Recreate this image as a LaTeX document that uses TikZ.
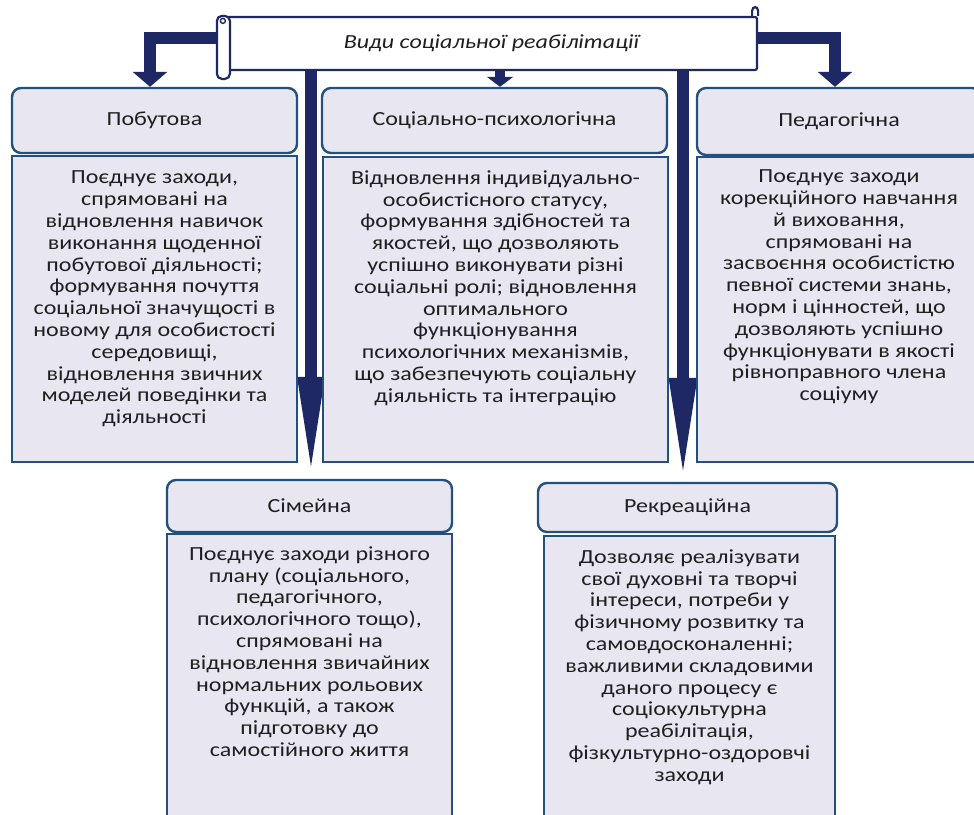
\documentclass[tikz,border=0pt]{standalone}
\usepackage{fontspec}
\setmainfont{Carlito}[FakeStretch=1.2]
\usetikzlibrary{arrows.meta}
\definecolor{navy}{RGB}{30,40,100}
\definecolor{bordc}{RGB}{35,80,125}
\definecolor{boxfill}{RGB}{232,230,241}
\pgfdeclarelayer{bg}
\pgfsetlayers{bg,main}
\begin{document}
\begin{tikzpicture}[x=1pt,y=-1pt,
 every node/.style={font=\fontsize{20}{21.8}\selectfont, text=black!88},
 hdr/.style={draw=bordc, fill=boxfill, line width=2.4pt, rounded corners=9pt, inner sep=0pt},
 bodybox/.style={draw=bordc, fill=boxfill, line width=2.4pt, inner sep=0pt},
 btext/.style={align=center, inner sep=0pt},
 scrollbox/.style={draw=navy, fill=white, line width=2.2pt, rounded corners=2pt, inner sep=0pt, font=\fontsize{20}{22}\selectfont\itshape},
 scrollpart/.style={draw=navy, fill=white, line width=2.2pt},
 blockarr/.style={draw=navy, line width=12pt, line join=miter},
]
\clip (0,0) rectangle (974,814);

% header and body boxes
\node[hdr, minimum width=285pt, minimum height=65pt] (pobh) at (154.5,120.5) {Побутова};
\node[bodybox, minimum width=285pt, minimum height=306pt] (pobb) at (154.5,309) {};
\node[hdr, minimum width=345pt, minimum height=65pt] (soch) at (494.5,120.5) {Соціально-психологічна};
\node[bodybox, minimum width=345pt, minimum height=305pt] (socb) at (495.5,309.5) {};
\node[hdr, minimum width=284pt, minimum height=67pt] (pedh) at (839,121.5) {Педагогічна};
\node[bodybox, minimum width=284pt, minimum height=305pt] (pedb) at (839,309.5) {};
\node[hdr, minimum width=285pt, minimum height=52pt] (simh) at (309.5,506) {Сімейна};
\node[bodybox, minimum width=285pt, minimum height=296pt] (simb) at (309.5,682) {};
\node[hdr, minimum width=299pt, minimum height=49pt] (rekh) at (687.5,507.5) {Рекреаційна};
\node[bodybox, minimum width=291pt, minimum height=294pt] (rekb) at (689.5,683) {};

% body texts
\node[btext] (pobt) at (154.5,299) {Поєднує заходи,\\спрямовані на\\відновлення навичок\\виконання щоденної\\побутової діяльності;\\формування почуття\\соціальної значущості в\\новому для особистості\\середовищі,\\відновлення звичних\\моделей поведінки та\\діяльності};
\node[btext] (soct) at (495.5,288) {Відновлення індивідуально-\\особистісного статусу,\\формування здібностей та\\якостей, що дозволяють\\успішно виконувати різні\\соціальні ролі; відновлення\\оптимального\\функціонування\\психологічних механізмів,\\що забезпечують соціальну\\діяльність та інтеграцію};
\node[btext] (pedt) at (839,287) {Поєднує заходи\\корекційного навчання\\й виховання,\\спрямовані на\\засвоєння особистістю\\певної системи знань,\\норм і цінностей, що\\дозволяють успішно\\функціонувати в якості\\рівноправного члена\\соціуму};
\node[btext] (simt) at (309.5,651.5) {Поєднує заходи різного\\плану (соціального,\\педагогічного,\\психологічного тощо),\\спрямовані на\\відновлення звичайних\\нормальних рольових\\функцій, а також\\підготовку до\\самостійного життя};
\node[btext] (rekt) at (689.5,667) {Дозволяє реалізувати\\свої духовні та творчі\\інтереси, потреби у\\фізичному розвитку та\\самовдосконаленні;\\важливими складовими\\даного процесу є\\соціокультурна\\реабілітація,\\фізкультурно-оздоровчі\\заходи};

% title scroll
\node[scrollbox, minimum width=531pt, minimum height=53pt] (title) at (491.5,43.5) {Види соціальної реабілітації};
\draw[scrollpart, rounded corners=5pt] ([xshift=-8pt]title.north west) rectangle ++(13,63);
\draw[navy, line width=1.4pt, fill=white] ([xshift=-2pt,yshift=-5pt]title.north west) circle (2.5pt);
\draw[scrollpart] ([xshift=-6pt]title.north east) -- ++(0,-5) .. controls +(0,-5) and +(0,-5) .. ++(6,0) -- ++(0,5);

% arrows
\coordinate (v1) at (title.south -| simh.north);
\coordinate (v2) at (title.south -| rekh.north);
\begin{pgfonlayer}{bg}
\fill[white] (0,0) rectangle (974,814);
\draw[blockarr, -{Triangle[width=34pt,length=15pt]}] ([yshift=5.5pt]title.west) -| ([xshift=-4.5pt]pobh.north);
\draw[blockarr, -{Triangle[width=34pt,length=15pt]}] ([yshift=5.5pt]title.east) -| ([xshift=-4pt]pedh.north);
\draw[blockarr, line width=10pt, -{Triangle[width=26pt,length=10pt]}] ([xshift=8.5pt]title.south) -- ([xshift=5.5pt]soch.north);
\draw[blockarr, -{Triangle[width=24pt,length=102pt]}] ([xshift=1.5pt]v1) -- ([xshift=1.5pt]simh.north);
\draw[blockarr, -{Triangle[width=25pt,length=104pt]}] ([xshift=-4.5pt]v2) -- ([xshift=-4.5pt]rekh.north);
\end{pgfonlayer}
\end{tikzpicture}
\end{document}
